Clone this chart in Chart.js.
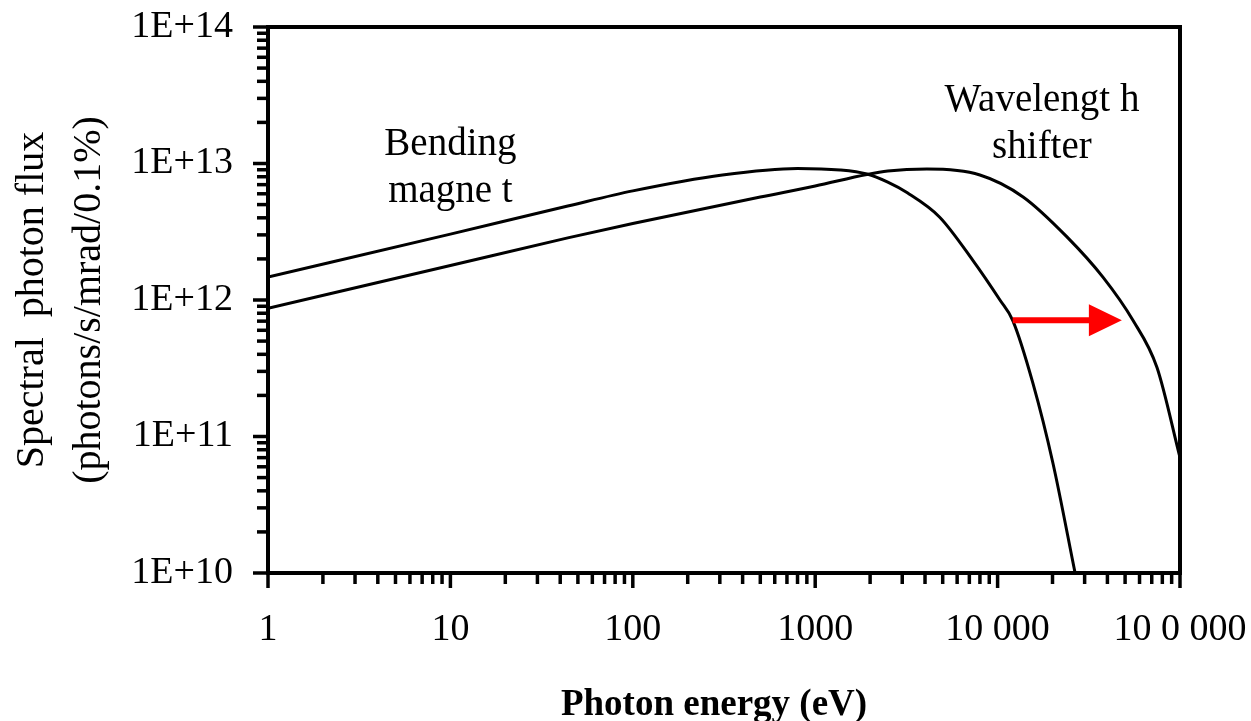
<!DOCTYPE html>
<html>
<head>
<meta charset="utf-8">
<script src="https://cdn.jsdelivr.net/npm/chart.js@4.4.0/dist/chart.umd.min.js"></script>
<style>
  html, body { margin: 0; padding: 0; background: #fff; }
  #wrap { width: 1251px; height: 721px; }
</style>
</head>
<body>
<div id="wrap"><canvas id="flux"></canvas></div>
<script>
const xTicks = [1, 10, 100, 1000, 10000, 100000]
const xTickLabels = ['1', '10', '100', '1000', '10 000', '10 0 000']
const yTicks = [1e10, 1e11, 1e12, 1e13, 1e14]
const yTickLabels = ['1E+10', '1E+11', '1E+12', '1E+13', '1E+14']

// bending magnet spectrum (eV, photons/s/mrad/0.1%)
const bmEnergy = [1, 10, 44, 100, 310, 800, 1370, 1920, 2500, 3200, 4800, 7300, 10300, 12100, 15600, 20100, 26600]
const bmFlux = [1.47e12, 3.04e12, 4.88e12, 6.3e12, 8.24e12, 9.2e12, 8.96e12, 8.37e12, 7.3e12, 6.1e12, 4.06e12, 1.96e12, 1.0e12, 7.1e11, 2.47e11, 6.4e10, 1.0e10]

// wavelength shifter spectrum
const wlsEnergy = [1, 10, 44, 100, 500, 1000, 1920, 2500, 4100, 8000, 13800, 24000, 37800, 55200, 74800, 100000]
const wlsFlux = [8.69e11, 1.79e12, 2.85e12, 3.63e12, 5.68e12, 6.84e12, 8.3e12, 8.8e12, 9.1e12, 8.24e12, 5.69e12, 2.9e12, 1.47e12, 7.1e11, 3.2e11, 7.0e10]

// red arrow showing the shift to higher energy
const arrowFrom = 12100
const arrowTo = 48000
const arrowFlux = 7.1e11

const FONT = "'Liberation Serif', 'Times New Roman', serif"

function toPoints(xs, ys) {
  return xs.map((v, i) => ({ x: v, y: ys[i] }))
}

function strokeLine(ctx, x1, y1, x2, y2) {
  ctx.beginPath()
  ctx.moveTo(x1, y1)
  ctx.lineTo(x2, y2)
  ctx.stroke()
}

// labels may overhang the frame; keep the plot box where the layout padding puts it
function noOverhang(s) {
  s.paddingTop = 0
  s.paddingBottom = 0
  s.paddingLeft = 0
  s.paddingRight = 0
}

// frame plus major/minor tick marks on the outside of the axes
const frameTicks = {
  id: 'frameTicks',
  afterDatasetsDraw(chart) {
    const { ctx, chartArea: a, scales: { x, y } } = chart
    ctx.save()
    ctx.strokeStyle = '#000'
    ctx.lineCap = 'butt'
    ctx.lineWidth = 4
    ctx.strokeRect(a.left, a.top, a.right - a.left, a.bottom - a.top)

    ctx.lineWidth = 3.5
    xTicks.forEach((d, i) => {
      const px = x.getPixelForValue(d)
      strokeLine(ctx, px, a.bottom, px, a.bottom + 15)
      if (i < xTicks.length - 1) {
        for (let k = 2; k < 10; k++) {
          const p = x.getPixelForValue(k * d)
          strokeLine(ctx, p, a.bottom, p, a.bottom + 11)
        }
      }
    })
    yTicks.forEach((d, i) => {
      const py = y.getPixelForValue(d)
      strokeLine(ctx, a.left, py, a.left - 15, py)
      if (i < yTicks.length - 1) {
        for (let k = 2; k < 10; k++) {
          const p = y.getPixelForValue(k * d)
          strokeLine(ctx, a.left, p, a.left - 11, p)
        }
      }
    })

    // x axis title, set a little left of the plot centre
    ctx.fillStyle = '#000'
    ctx.font = 'bold 37px ' + FONT
    ctx.textAlign = 'center'
    ctx.textBaseline = 'middle'
    ctx.fillText('Photon energy (eV)', (a.left + a.right) / 2 - 10, chart.height - 16)
    ctx.restore()
  }
}

// arrow and curve captions
const notes = {
  id: 'notes',
  afterDatasetsDraw(chart) {
    const { ctx, scales: { x, y } } = chart
    ctx.save()
    const x1 = x.getPixelForValue(arrowFrom)
    const x2 = x.getPixelForValue(arrowTo)
    const ay = y.getPixelForValue(arrowFlux)
    const head = 33
    ctx.strokeStyle = '#ff0000'
    ctx.fillStyle = '#ff0000'
    ctx.lineWidth = 6
    strokeLine(ctx, x1, ay, x2 - head + 1, ay)
    ctx.beginPath()
    ctx.moveTo(x2, ay)
    ctx.lineTo(x2 - head, ay - 16)
    ctx.lineTo(x2 - head, ay + 16)
    ctx.closePath()
    ctx.fill()

    ctx.fillStyle = '#000'
    ctx.font = '39px ' + FONT
    ctx.textAlign = 'center'
    ctx.textBaseline = 'middle'
    const bx = x.getPixelForValue(10)
    ctx.fillText('Bending', bx, 145)
    ctx.fillText('magne t', bx, 192)
    const wx = x.getPixelForValue(17500)
    ctx.fillText('Wavelengt h', wx, 101)
    ctx.fillText('shifter', wx, 148)
    ctx.restore()
  }
}

const tickFont = { family: FONT, size: 38 }

new Chart(document.getElementById('flux'), {
  type: 'line',
  data: {
    datasets: [
      {
        label: 'Bending magnet',
        data: toPoints(bmEnergy, bmFlux),
        borderColor: '#000',
        borderWidth: 3,
        pointRadius: 0,
        cubicInterpolationMode: 'monotone'
      },
      {
        label: 'Wavelength shifter',
        data: toPoints(wlsEnergy, wlsFlux),
        borderColor: '#000',
        borderWidth: 3,
        pointRadius: 0,
        cubicInterpolationMode: 'monotone'
      }
    ]
  },
  options: {
    responsive: true,
    maintainAspectRatio: false,
    animation: false,
    layout: { padding: { top: 27, right: 71, left: 0, bottom: 0 } },
    plugins: { legend: { display: false }, tooltip: { enabled: false } },
    scales: {
      x: {
        type: 'logarithmic',
        min: 1,
        max: 100000,
        grid: { display: false, drawTicks: false },
        border: { display: false },
        afterBuildTicks: s => { s.ticks = xTicks.map(v => ({ value: v })) },
        afterFit: s => { s.height = 148; noOverhang(s) },
        ticks: {
          autoSkip: false,
          maxRotation: 0,
          padding: 34,
          color: '#000',
          font: tickFont,
          callback: v => xTickLabels[xTicks.indexOf(v)]
        }
      },
      y: {
        type: 'logarithmic',
        min: 1e10,
        max: 1e14,
        grid: { display: false, drawTicks: false },
        border: { display: false },
        afterBuildTicks: s => { s.ticks = yTicks.map(v => ({ value: v })) },
        afterFit: s => { s.width = 268; noOverhang(s) },
        ticks: {
          autoSkip: false,
          padding: 35,
          color: '#000',
          font: tickFont,
          callback: v => yTickLabels[yTicks.indexOf(v)]
        },
        title: {
          display: true,
          text: ['Spectral  photon flux', '(photons/s/mrad/0.1%)'],
          color: '#000',
          font: { family: FONT, size: 40, lineHeight: 1.425 },
          padding: { top: 4, bottom: 0 }
        }
      }
    }
  },
  plugins: [frameTicks, notes]
})
</script>
</body>
</html>
